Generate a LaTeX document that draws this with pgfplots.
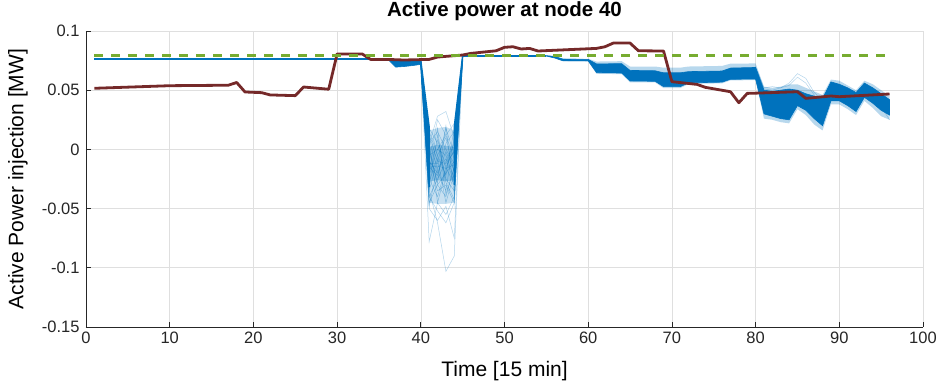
\documentclass[border=0pt]{standalone}
\usepackage{fontspec}
\setmainfont{Liberation Sans}
\usepackage{pgfplots}
\pgfplotsset{compat=1.18}
\definecolor{mblue}{RGB}{0,114,189}
\definecolor{mred}{RGB}{117,41,41}
\definecolor{mgreen}{RGB}{119,172,48}
\definecolor{gridgray}{RGB}{223,223,223}
\definecolor{axgray}{RGB}{38,38,38}
\begin{document}
\begin{tikzpicture}
\path[use as bounding box] (-86pt,-60pt) rectangle (851pt,327pt);
\begin{axis}[
  at={(0,0)}, anchor=south west,
  scale only axis, width=837pt, height=296pt,
  xmin=0, xmax=100, ymin=-0.15, ymax=0.1,
  xtick={0,10,20,30,40,50,60,70,80,90,100},
  xticklabels={0,10,20,30,40,50,60,70,80,90,100},
  ytick={-0.15,-0.1,-0.05,0,0.05,0.1},
  yticklabels={-0.15,-0.1,-0.05,0,0.05,0.1},
  xmajorgrids, ymajorgrids,
  grid style={color=gridgray, line width=0.6pt},
  axis x line*=bottom, axis y line*=left,
  axis line style={color=axgray, line width=0.7pt},
  tick style={color=axgray, line width=0.7pt},
  tick align=inside, major tick length=5pt,
  ticklabel style={font=\fontsize{16.5}{19}\selectfont, color=axgray},
  yticklabel style={xshift=-3pt},
  xticklabel style={yshift=-1pt},
  title={Active power at node 40},
  title style={font=\bfseries\fontsize{20.5}{24}\selectfont, at={(axis description cs:0.5,1)}, anchor=center, yshift=14pt},
  xlabel={Time [15 min]},
  xlabel style={font=\fontsize{21}{24}\selectfont, at={(axis description cs:0.5,0)}, anchor=center, yshift=-44pt},
  ylabel={Active Power injection [MW]},
  ylabel style={font=\fontsize{21}{24}\selectfont, at={(axis description cs:0,0.5)}, anchor=center, yshift=68pt},
]
% ---- blue scenario envelope: faint outer part
\addplot[fill=mblue, fill opacity=0.28, draw=none] coordinates {
 (56,0.0788)(57,0.0768)(60,0.0765)(61,0.0742)(64,0.0745)(65,0.0700)(68,0.0700)(69,0.0690)(71,0.0690)(72,0.0700)(76,0.0705)(77,0.0724)(80,0.0726)(81,0.053)(82,0.052)(83,0.053)(84,0.055)(85,0.055)(86,0.052)(87,0.049)(88,0.046)(89,0.059)(90,0.058)(91,0.054)(92,0.050)(93,0.058)(94,0.055)(95,0.050)(96,0.045)
 (96,0.025)(95,0.028)(94,0.035)(93,0.041)(92,0.029)(91,0.034)(90,0.038)(89,0.038)(88,0.016)(87,0.021)(86,0.029)(85,0.034)(84,0.022)(83,0.023)(82,0.025)(81,0.026)(80,0.0585)(77,0.0583)(76,0.0558)(72,0.0552)(71,0.0518)(69,0.0518)(68,0.0565)(65,0.0566)(64,0.0636)(61,0.0638)(60,0.0742)(57,0.0745)(56,0.0768)
} -- cycle;
% ---- blue core 36-40
\addplot[fill=mblue, draw=mblue, line width=0.6pt] coordinates {
 (36,0.0765)(37,0.0757)(38,0.0753)(39,0.0751)(40,0.0750)
 (40,0.0718)(39,0.0708)(38,0.0700)(37,0.0695)(36,0.0765)
} -- cycle;
% ---- blue core 45-96
\addplot[fill=mblue, draw=mblue, line width=0.6pt] coordinates {
 (45,0.0792)(55,0.0792)(56,0.0785)(57,0.0762)(60,0.0760)(61,0.0722)(64,0.0724)(65,0.0667)(68,0.0664)(69,0.0647)(71,0.0647)(72,0.0657)(76,0.0662)(77,0.0687)(80,0.0692)(81,0.050)(82,0.049)(83,0.050)(84,0.051)(85,0.050)(86,0.047)(87,0.045)(88,0.043)(89,0.057)(90,0.055)(91,0.052)(92,0.048)(93,0.056)(94,0.052)(95,0.047)(96,0.042)
 (96,0.029)(95,0.033)(94,0.039)(93,0.044)(92,0.032)(91,0.037)(90,0.041)(89,0.041)(88,0.020)(87,0.026)(86,0.033)(85,0.037)(84,0.025)(83,0.026)(82,0.028)(81,0.030)(80,0.0594)(77,0.0592)(76,0.0568)(72,0.0562)(71,0.0530)(69,0.0530)(68,0.0575)(65,0.0578)(64,0.0645)(61,0.0648)(60,0.0748)(57,0.0748)(56,0.0772)(55,0.0788)(45,0.0788)
} -- cycle;
% ---- a few faint outlier scenarios after 80
\addplot[mblue, opacity=0.3, line width=0.5pt] coordinates {(80,0.0700)(81,0.052)(82,0.053)(83,0.052)(84,0.056)(85,0.064)(86,0.060)(87,0.048)(88,0.042)(89,0.057)};
\addplot[mblue, opacity=0.3, line width=0.5pt] coordinates {(80,0.0690)(81,0.051)(82,0.050)(83,0.052)(84,0.054)(85,0.061)(86,0.056)(87,0.046)(88,0.035)(89,0.056)};
\addplot[mblue, opacity=0.3, line width=0.5pt] coordinates {(92,0.040)(93,0.052)(94,0.046)(95,0.036)(96,0.025)};
% ---- dive region 40-45: fans and spread
\addplot[fill=mblue, fill opacity=0.45, draw=none] coordinates {(40,0.0740)(41,-0.030)(41,-0.050)(40,0.0718)} -- cycle;
\addplot[fill=mblue, draw=mblue, line width=1.4pt] coordinates {(40,0.0750)(41,0.019)(41,-0.032)(40,0.0720)} -- cycle;
\addplot[fill=mblue, fill opacity=0.45, draw=none] coordinates {(44,-0.028)(45,0.0790)(44,-0.050)} -- cycle;
\addplot[fill=mblue, draw=mblue, line width=1.4pt] coordinates {(44,0.019)(45,0.0792)(45,0.0788)(44,-0.030)} -- cycle;
\addplot[fill=mblue, fill opacity=0.22, draw=none] coordinates {(41,0.016)(42,0.018)(43,0.019)(44,0.016)(44,-0.045)(43,-0.046)(42,-0.046)(41,-0.045)} -- cycle;
\addplot[fill=mblue, fill opacity=0.3, draw=none] coordinates {(41,0.002)(42,0.004)(43,0.003)(44,0.002)(44,-0.026)(43,-0.027)(42,-0.026)(41,-0.027)} -- cycle;
\addplot[mblue, opacity=0.35, line width=0.5pt] coordinates {(40,0.0740)(41,0.015)(42,-0.005)(43,0.010)(44,-0.020)(45,0.079)};
\addplot[mblue, opacity=0.35, line width=0.5pt] coordinates {(40,0.0725)(41,-0.020)(42,0.008)(43,-0.015)(44,-0.030)(45,0.079)};
\addplot[mblue, opacity=0.35, line width=0.5pt] coordinates {(40,0.0735)(41,-0.040)(42,-0.025)(43,-0.010)(44,0.005)(45,0.079)};
\addplot[mblue, opacity=0.35, line width=0.5pt] coordinates {(40,0.0745)(41,0.002)(42,-0.030)(43,-0.040)(44,-0.015)(45,0.079)};
\addplot[mblue, opacity=0.35, line width=0.5pt] coordinates {(40,0.0720)(41,-0.012)(42,-0.012)(43,0.018)(44,-0.005)(45,0.079)};
\addplot[mblue, opacity=0.35, line width=0.5pt] coordinates {(40,0.0730)(41,-0.030)(42,0.012)(43,-0.028)(44,-0.042)(45,0.079)};
\addplot[mblue, opacity=0.35, line width=0.5pt] coordinates {(40,0.0748)(41,0.010)(42,-0.018)(43,-0.035)(44,0.012)(45,0.079)};
\addplot[mblue, opacity=0.35, line width=0.5pt] coordinates {(40,0.0722)(41,-0.045)(42,-0.030)(43,-0.020)(44,-0.010)(45,0.079)};
\addplot[mblue, opacity=0.35, line width=0.5pt] coordinates {(40,0.0738)(41,-0.005)(42,0.000)(43,-0.005)(44,-0.025)(45,0.079)};
\addplot[mblue, opacity=0.35, line width=0.5pt] coordinates {(40,0.0728)(41,-0.025)(42,-0.040)(43,-0.015)(44,0.000)(45,0.079)};
\addplot[mblue, opacity=0.35, line width=0.5pt] coordinates {(40,0.0746)(41,0.018)(42,0.005)(43,-0.025)(44,-0.035)(45,0.079)};
\addplot[mblue, opacity=0.35, line width=0.5pt] coordinates {(40,0.0732)(41,-0.015)(42,-0.022)(43,0.005)(44,0.015)(45,0.079)};
\addplot[mblue, opacity=0.35, line width=0.5pt] coordinates {(40,0.0724)(41,-0.035)(42,-0.008)(43,-0.045)(44,-0.020)(45,0.079)};
\addplot[mblue, opacity=0.35, line width=0.5pt] coordinates {(40,0.0742)(41,0.005)(42,0.015)(43,0.000)(44,-0.012)(45,0.079)};
\addplot[mblue, opacity=0.35, line width=0.5pt] coordinates {(40,0.0736)(41,-0.008)(42,-0.035)(43,-0.030)(44,-0.045)(45,0.079)};
\addplot[mblue, opacity=0.35, line width=0.5pt] coordinates {(40,0.0726)(41,-0.022)(42,0.000)(43,0.012)(44,-0.008)(45,0.079)};
\addplot[mblue, opacity=0.35, line width=0.5pt] coordinates {(40,0.0719)(41,-0.048)(42,-0.015)(43,-0.008)(44,-0.028)(45,0.079)};
\addplot[mblue, opacity=0.35, line width=0.5pt] coordinates {(40,0.0744)(41,0.008)(42,-0.045)(43,-0.018)(44,0.008)(45,0.079)};
\addplot[mblue, opacity=0.35, line width=0.5pt] coordinates {(40,0.0731)(41,-0.018)(42,0.018)(43,-0.038)(44,-0.015)(45,0.079)};
\addplot[mblue, opacity=0.35, line width=0.5pt] coordinates {(40,0.0739)(41,-0.002)(42,-0.028)(43,0.020)(44,-0.038)(45,0.079)};
\addplot[mblue, opacity=0.35, line width=0.5pt] coordinates {(40,0.0727)(41,-0.028)(42,-0.005)(43,-0.022)(44,0.018)(45,0.079)};
\addplot[mblue, opacity=0.35, line width=0.5pt] coordinates {(40,0.0743)(41,0.012)(42,-0.010)(43,-0.012)(44,-0.002)(45,0.079)};
\addplot[mblue, opacity=0.35, line width=0.5pt] coordinates {(40,0.0733)(41,-0.010)(42,-0.020)(43,-0.002)(44,-0.018)(45,0.079)};
\addplot[mblue, opacity=0.35, line width=0.5pt] coordinates {(40,0.0729)(41,-0.015)(42,-0.014)(43,-0.016)(44,-0.013)(45,0.079)};
\addplot[mblue, opacity=0.3, line width=0.5pt] coordinates {(40,0.0734)(41,-0.035)(42,-0.062)(43,-0.103)(44,-0.090)(45,0.079)};
\addplot[mblue, opacity=0.3, line width=0.5pt] coordinates {(40,0.0721)(41,-0.078)(42,-0.045)(43,-0.055)(44,-0.040)(45,0.079)};
\addplot[mblue, opacity=0.3, line width=0.5pt] coordinates {(40,0.0737)(41,-0.050)(42,-0.060)(43,-0.048)(44,-0.075)(45,0.079)};
\addplot[mblue, opacity=0.3, line width=0.5pt] coordinates {(40,0.0747)(41,0.005)(42,0.028)(43,0.032)(44,0.010)(45,0.079)};
\addplot[mblue, opacity=0.3, line width=0.5pt] coordinates {(40,0.0741)(41,-0.010)(42,0.025)(43,0.012)(44,0.022)(45,0.079)};
\addplot[mblue, opacity=0.3, line width=0.5pt] coordinates {(40,0.0723)(41,-0.040)(42,-0.052)(43,-0.062)(44,-0.045)(45,0.079)};
% ---- blue deterministic part
\addplot[mblue, line width=1.8pt] coordinates {(1,0.0765)(36,0.0765)};
\addplot[mblue, line width=1.8pt] coordinates {(45,0.0790)(55,0.0790)};
% ---- red line
\addplot[mred, line width=2.8pt, line join=round] coordinates {
 (1,0.0516)(10,0.0538)(17,0.0542)(18,0.0565)(19,0.0485)(21,0.0479)(22,0.0460)(25,0.0454)(26,0.0527)(29,0.0508)(30,0.0806)(33,0.0806)(34,0.0760)(36,0.0760)(38,0.0755)(41,0.0760)(42,0.0780)(45,0.0797)(46,0.0811)(49,0.0833)(50,0.0862)(51,0.0867)(52,0.0848)(53,0.0853)(54,0.0831)(61,0.0853)(62,0.0867)(63,0.0898)(65,0.0898)(66,0.0833)(69,0.0831)(70,0.0572)(73,0.0549)(74,0.0524)(77,0.0487)(78,0.0394)(79,0.0473)(80,0.0475)(85,0.0487)(86,0.0431)(89,0.0451)(90,0.0445)(96,0.0468)
};
% ---- green dashed limit
\addplot[mgreen, line width=3pt, dash pattern=on 8.5pt off 8.5pt] coordinates {(1,0.079)(96,0.079)};
\end{axis}
\end{tikzpicture}
\end{document}
